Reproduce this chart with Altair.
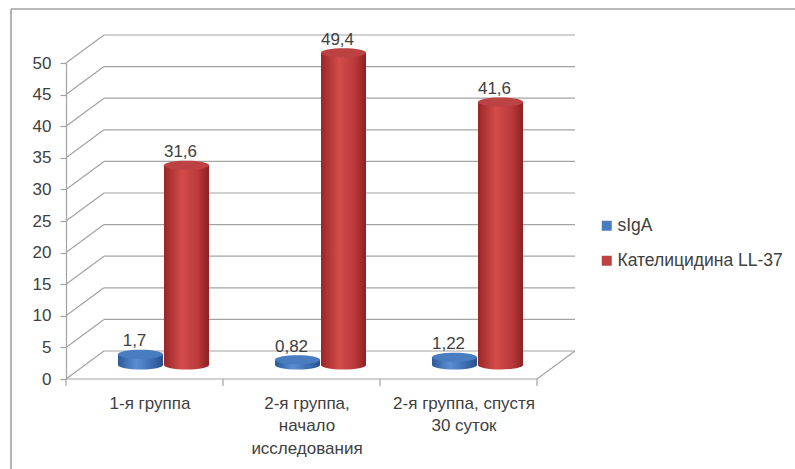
import altair as alt
import pandas as pd

# ---- chart values ----
categories = ["1-я группа", "2-я группа,\nначало\nисследования", "2-я группа, спустя\n30 суток"]
series = ["sIgA", "Кателицидина LL-37"]
siga = [1.7, 0.82, 1.22]
ll37 = [31.6, 49.4, 41.6]
y_ticks = [0, 5, 10, 15, 20, 25, 30, 35, 40, 45, 50]

series_colors = ["#4a7cc0", "#bd4244"]

# ---- pseudo-3D layout (x: one category = 1 unit, y: value units) ----
DX = 0.242      # depth offset along x
DY = 4.43       # depth offset along y
DEPTH = 0.5     # cylinders stand half way into the floor
HALF_W = 0.1433 # half cylinder width
SHIFT = 0.1465  # series offset from the category centre
TICK = 1.1      # category tick length (value units)
N = len(categories)

rows = []
for i, cat in enumerate(categories):
    for s, vals in enumerate((siga, ll37)):
        v = vals[i]
        cx = i + 0.5 + (SHIFT if s else -SHIFT) + DX * DEPTH
        base = DY * DEPTH
        rows.append(dict(series=series[s], cat=cat, value=v, cx=cx,
                         x0=cx - HALF_W, x1=cx + HALF_W,
                         base=base, top=v + base,
                         label=f"{v:g}".replace(".", ",")))
bars = pd.DataFrame(rows)

side = pd.DataFrame({"x": [0.0] * len(y_ticks), "x2": [DX] * len(y_ticks),
                     "y": y_ticks, "y2": [t + DY for t in y_ticks]})
back = pd.DataFrame({"x": [DX] * len(y_ticks), "x2": [N + DX] * len(y_ticks),
                     "y": [t + DY for t in y_ticks]})
floor_edge = pd.DataFrame({"x": [0.0, N], "x2": [N, N + DX],
                           "y": [0.0, 0.0], "y2": [0.0, DY]})
cat_ticks = pd.DataFrame({"x": list(range(N + 1)), "y": [0.0] * (N + 1),
                          "y2": [-TICK] * (N + 1)})

xs = alt.Scale(domain=[0, N], nice=False, zero=False)
ys = alt.Scale(domain=[0, 50], nice=False, zero=False)
GRID = "#a3a3a3"
FONT = "Liberation Sans"
TEXT = "#404040"

# category labels as axis text, multi-line
parts = [c.split("\n") for c in categories]
def arr(p):
    return "[" + ",".join("'" + s + "'" for s in p) + "]"
label_expr = (f"datum.value < 1 ? {arr(parts[0])} : "
              f"datum.value < 2 ? {arr(parts[1])} : {arr(parts[2])}")

x_axis = alt.Axis(values=[i + 0.5 for i in range(N)], labelExpr=label_expr,
                  ticks=False, tickSize=0, domain=False, grid=False, title=None,
                  labelFontSize=17, labelFont=FONT, labelColor=TEXT,
                  labelPadding=24, labelLineHeight=22.5, labelOffset=5,
                  labelBaseline="middle")
y_axis = alt.Axis(values=y_ticks, tickSize=6, labelPadding=9, grid=False,
                  title=None, domainColor=GRID, tickColor=GRID, domainWidth=1.2,
                  tickWidth=1.2,
                  labelFontSize=17, labelFont=FONT, labelColor=TEXT)

def X(field):
    return alt.X(field, type="quantitative", scale=xs, axis=x_axis)

def Y(field):
    return alt.Y(field, type="quantitative", scale=ys, axis=y_axis)

side_l = alt.Chart(side).mark_rule(color=GRID, strokeWidth=1.2).encode(
    x=X("x"), x2="x2", y=Y("y"), y2="y2")
back_l = alt.Chart(back).mark_rule(color=GRID, strokeWidth=1.2).encode(
    x=X("x"), x2="x2", y=Y("y"))
floor_l = alt.Chart(floor_edge).mark_rule(color=GRID, strokeWidth=1.2).encode(
    x=X("x"), x2="x2", y=Y("y"), y2="y2")
ticks_l = alt.Chart(cat_ticks).mark_rule(color=GRID, strokeWidth=1.2).encode(
    x=X("x"), y=Y("y"), y2="y2")

def grad(stops):
    return alt.Gradient(gradient="linear", x1=0, x2=1, y1=0, y2=0,
                        stops=[alt.GradientStop(offset=o, color=c) for o, c in stops])

body_grad = {
    series[0]: grad([(0, "#2c5a9a"), (0.4, "#5b8fd2"), (0.75, "#3d6cb0"), (1, "#26508c")]),
    series[1]: grad([(0, "#9a2628"), (0.4, "#d24c4a"), (0.75, "#bb3a3b"), (1, "#8c2022")]),
}

ELLIPSE = "M -1 0 A 1 0.2 0 1 1 1 0 A 1 0.2 0 1 1 -1 0 Z"
SIZE = 2025

layers = [side_l, back_l, floor_l, ticks_l]
for s in series:
    sub = alt.Chart(bars).transform_filter(alt.datum.series == s)
    bottom = sub.mark_point(shape=ELLIPSE, size=SIZE, filled=True, opacity=1,
                            color=body_grad[s], strokeWidth=0).encode(
        x=X("cx"), y=Y("base"))
    body = sub.mark_rect(color=body_grad[s]).encode(
        x=X("x0"), x2="x1", y=Y("base"), y2="top")
    layers += [bottom, body]

tops = alt.Chart(bars).mark_point(shape=ELLIPSE, size=SIZE, filled=True,
                                  opacity=1, strokeWidth=0).encode(
    x=X("cx"), y=Y("top"),
    color=alt.Color("series:N", sort=series,
                    scale=alt.Scale(domain=series, range=series_colors),
                    legend=alt.Legend(title=None, orient="none", legendX=532,
                                      legendY=154, symbolType="square",
                                      symbolSize=100, symbolStrokeWidth=0,
                                      labelFontSize=17.5, labelFont=FONT,
                                      labelColor=TEXT, rowPadding=16,
                                      labelOffset=2, labelLimit=400)))
labels = alt.Chart(bars).mark_text(fontSize=17, font=FONT, color=TEXT,
                                   baseline="bottom", dx=-6, dy=-4).encode(
    x=X("cx"), y=Y("top"), text="label:N")

frame = pd.DataFrame({"k": [0]})
frame_top = alt.Chart(frame).mark_rule(color="#a0a0a0", strokeWidth=1.6).encode(
    x=alt.value(-55), x2=alt.value(760), y=alt.value(-54))
frame_left = alt.Chart(frame).mark_rule(color="#a0a0a0", strokeWidth=1.6).encode(
    x=alt.value(-55), y=alt.value(-54), y2=alt.value(420))

chart = alt.layer(frame_top, frame_left, *layers, tops, labels).properties(
    width=471, height=316,
    autosize=alt.AutoSizeParams(type="none"),
    padding={"left": 66, "top": 63, "right": 258, "bottom": 90},
    background="white",
).configure_view(stroke=None)

chart.save("out.html", embed_options={"renderer": "svg", "actions": False})
